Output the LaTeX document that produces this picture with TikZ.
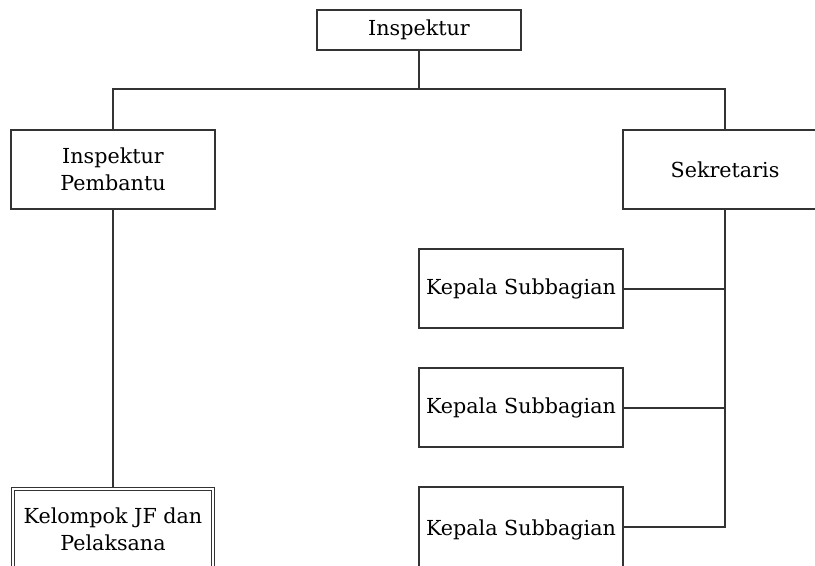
\documentclass[tikz,border=0pt]{standalone}
\usepackage{fontspec}
\setmainfont{DejaVu Serif}
\usetikzlibrary{positioning}
\begin{document}
\begin{tikzpicture}[x=0.75pt,y=-0.75pt,
  unit/.style={draw=black!80,line width=0.8pt,minimum width=153pt,minimum height=59.25pt,
    inner sep=0pt,align=center,font=\fontsize{15.5}{20.5}\selectfont,fill=white},
  topbox/.style={unit,minimum height=30pt},
  lowbox/.style={unit,minimum height=63.75pt},
  dbl/.style={lowbox,double=white,double distance=1.6pt,minimum width=150.5pt,minimum height=61.25pt},
  link/.style={draw=black!80,line width=0.8pt}]
  \clip (0,0) rectangle (815,565);
  \fill[white] (0,0) rectangle (815,565);
  % top of the hierarchy
  \node[topbox] (insp) at (419,30) {Inspektur};
  \node[unit] (pemb) at (113,169.5) {Inspektur\\Pembantu};
  \node[unit] (sekr) at (725,169.5) {Sekretaris};
  % sub-units under the secretary
  \node[unit] (sub1) at (521,288.5) {Kepala Subbagian};
  \node[unit] (sub2) at (521,407.5) {Kepala Subbagian};
  \node[lowbox] (sub3) at (521,529.5) {Kepala Subbagian};
  % functional group
  \node[dbl] (jf) at (113,529.5) {Kelompok JF dan\\Pelaksana};
  \coordinate (bus) at (419,89);
  % connectors
  \draw[link] (insp.south) -- (bus);
  \draw[link] (pemb.north) |- (bus) -| (sekr.north);
  \draw[link] (pemb.south) -- (jf.north);
  \draw[link] (sekr.south) |- ([yshift=1.875pt]sub3.east);
  \draw[link] ([yshift=-0.375pt]sub1.east) -- ([yshift=-0.375pt]sub1.east -| sekr.south);
  \draw[link] ([yshift=-0.375pt]sub2.east) -- ([yshift=-0.375pt]sub2.east -| sekr.south);
\end{tikzpicture}
\end{document}
